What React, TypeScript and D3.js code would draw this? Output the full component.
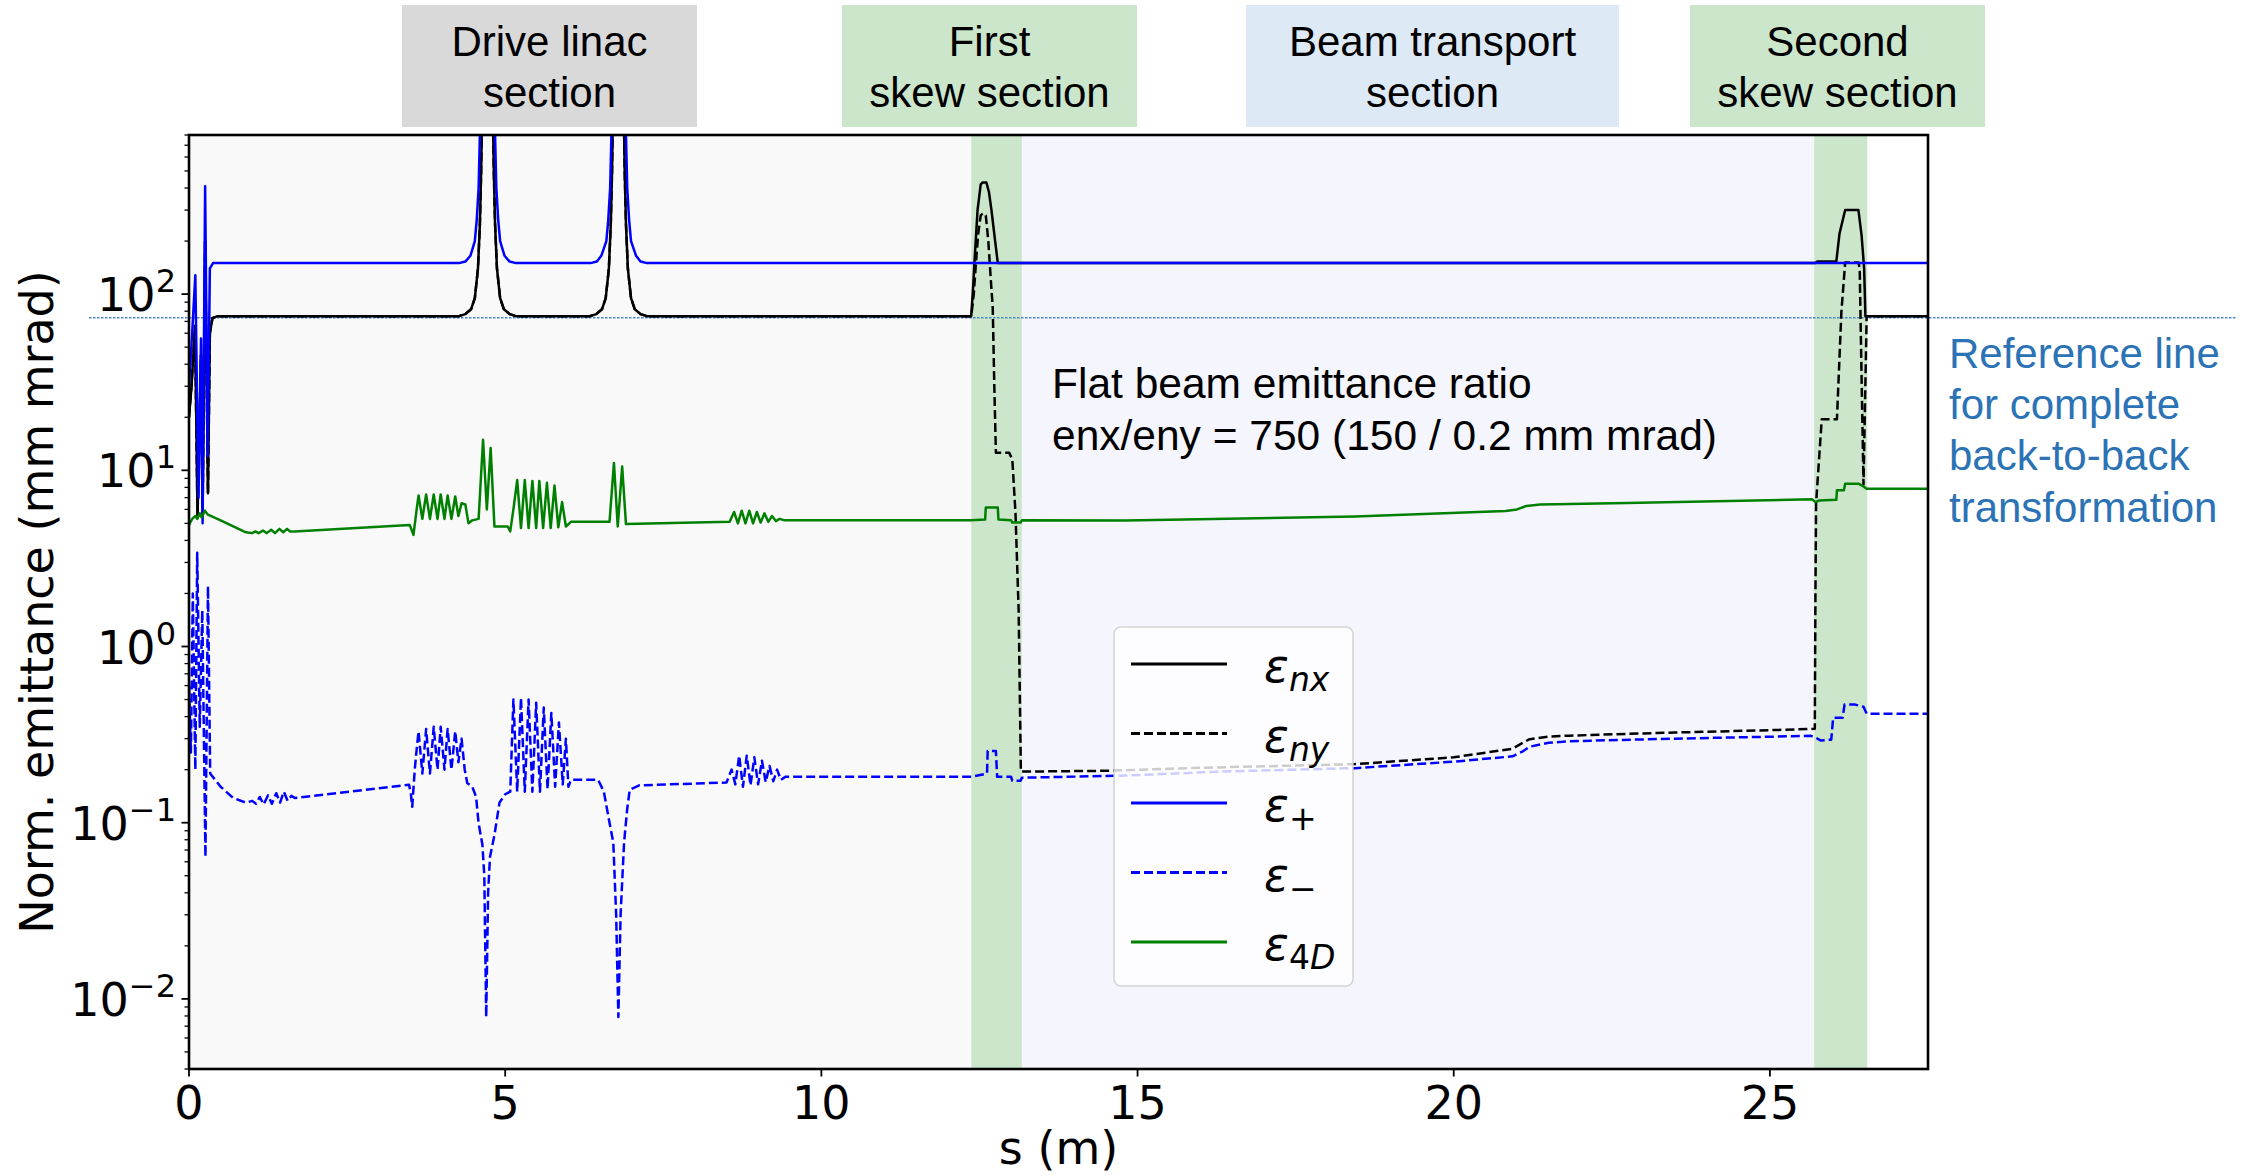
import React from 'react';
import * as d3 from 'd3';

const W = 2253;
const H = 1176;
const M = { left: 189, right: 1928, top: 135, bottom: 1069 };

const xDomain = [0, 27.5];
const yDomain = [0.004, 800];
const xTicks = [0, 5, 10, 15, 20, 25];
const yMajor = [0.01, 0.1, 1, 10, 100];
const yExp = ['\u22122', '\u22121', '0', '1', '2'];

// shaded regions along s (m)
const linacShade = [0, 12.37];
const transportShade = [13.17, 25.7];
const skewBands = [
  [12.37, 13.17],
  [25.7, 26.54],
];
const refLevel = 73.5;

// header boxes above the axes (figure pixels)
const headers = [
  { x0: 402, x1: 697, fill: '#d9d9d9', lines: ['Drive linac', 'section'] },
  { x0: 842, x1: 1137, fill: '#cce6cc', lines: ['First', 'skew section'] },
  { x0: 1246, x1: 1619, fill: '#dde9f4', lines: ['Beam transport', 'section'] },
  { x0: 1690, x1: 1985, fill: '#cce6cc', lines: ['Second', 'skew section'] },
];

const refText = ['Reference line', 'for complete', 'back-to-back', 'transformation'];
const noteText = ['Flat beam emittance ratio', 'enx/eny = 750 (150 / 0.2 mm mrad)'];

// eps_nx up to the first skew section (eps_ny is the same there)
const enxLinac: number[][] = [
  [0, 20], [0.04, 30], [0.095, 66], [0.135, 5.5], [0.19, 45], [0.215, 5.5], [0.255, 200],
  [0.3, 7.4], [0.33, 60], [0.37, 73], [0.45, 75],
  [4.27, 75], [4.37, 77], [4.46, 82], [4.52, 95], [4.57, 140], [4.6, 250], [4.62, 500],
  [4.64, 1500], [4.8, 1500], [4.82, 500], [4.84, 250], [4.87, 140], [4.92, 95], [4.98, 82],
  [5.07, 77], [5.17, 75],
  [6.34, 75], [6.44, 77], [6.53, 82], [6.59, 95], [6.64, 140], [6.67, 250], [6.69, 500],
  [6.71, 1500], [6.87, 1500], [6.89, 500], [6.91, 250], [6.94, 140], [6.99, 95], [7.05, 82],
  [7.14, 77], [7.24, 75],
  [12.37, 75],
];

const enxSkew: number[][] = [
  [12.4, 110], [12.42, 150], [12.47, 300], [12.52, 420], [12.55, 430], [12.61, 430],
  [12.65, 380], [12.69, 300], [12.73, 226], [12.79, 150],
  [25.72, 150], [25.75, 153], [26.05, 153], [26.1, 220], [26.19, 300], [26.4, 300],
  [26.45, 215], [26.49, 140], [26.51, 75], [27.5, 75],
];

const enyAfter: number[][] = [
  [12.41, 100], [12.44, 142], [12.48, 220], [12.52, 280], [12.56, 288], [12.6, 280],
  [12.64, 200], [12.68, 120], [12.71, 84], [12.735, 30], [12.76, 12.6], [12.97, 12.6],
  [13.02, 11.5], [13.07, 5.7], [13.12, 1.59], [13.155, 0.195],
  [14.5, 0.197], [16, 0.205], [18.44, 0.215], [20, 0.235], [20.93, 0.263], [21.1, 0.285],
  [21.2, 0.298], [21.5, 0.308], [21.83, 0.312], [23.5, 0.325], [25, 0.335], [25.71, 0.341],
  [25.72, 2], [25.73, 6.5], [25.82, 19.5], [26.06, 19.5], [26.13, 79], [26.19, 151],
  [26.4, 151], [26.42, 140], [26.44, 53], [26.48, 8.3], [26.53, 75], [27.5, 75],
];

const epsPlus: number[][] = [
  [0, 30], [0.05, 60], [0.1, 128], [0.15, 7], [0.19, 56], [0.215, 5], [0.255, 410],
  [0.295, 12], [0.33, 140], [0.38, 150],
  [4.27, 150], [4.37, 153], [4.45, 165], [4.52, 200], [4.55, 263], [4.58, 400], [4.6, 800],
  [4.62, 2000], [4.82, 2000], [4.84, 800], [4.86, 400], [4.89, 263], [4.92, 200],
  [4.99, 165], [5.07, 153], [5.17, 150],
  [6.35, 150], [6.45, 153], [6.52, 165], [6.6, 200], [6.63, 263], [6.66, 400], [6.68, 800],
  [6.7, 2000], [6.89, 2000], [6.91, 800], [6.93, 400], [6.96, 263], [6.99, 200],
  [7.07, 165], [7.14, 153], [7.24, 150],
  [27.5, 150],
];

const epsMinus: number[][] = [
  [0, 0.6], [0.03, 0.25], [0.06, 2.0], [0.1, 0.2], [0.13, 3.4], [0.17, 0.35], [0.21, 1.6],
  [0.26, 0.064], [0.3, 2.2], [0.335, 0.19], [0.5, 0.16], [0.7, 0.138], [0.9, 0.13],
  [1.0, 0.133], [1.06, 0.128], [1.12, 0.14], [1.18, 0.127], [1.25, 0.143], [1.31, 0.128],
  [1.38, 0.147], [1.44, 0.13], [1.5, 0.15], [1.56, 0.133], [1.62, 0.142], [1.68, 0.138],
  [3.48, 0.164], [3.51, 0.145], [3.53, 0.123], [3.57, 0.2], [3.6, 0.26],
  [3.63, 0.33], [3.69, 0.19], [3.75, 0.34], [3.81, 0.19], [3.87, 0.35], [3.93, 0.2],
  [3.98, 0.35], [4.04, 0.2], [4.09, 0.34], [4.15, 0.2], [4.21, 0.33], [4.26, 0.22],
  [4.31, 0.3], [4.36, 0.2], [4.4, 0.168],
  [4.48, 0.16], [4.54, 0.14], [4.58, 0.099], [4.64, 0.075], [4.67, 0.05], [4.7, 0.0079],
  [4.73, 0.04], [4.76, 0.064], [4.83, 0.085], [4.91, 0.13], [5.0, 0.145], [5.08, 0.15],
  [5.13, 0.5], [5.19, 0.15], [5.25, 0.51], [5.31, 0.15], [5.37, 0.5], [5.43, 0.15],
  [5.49, 0.48], [5.55, 0.15], [5.61, 0.45], [5.67, 0.155], [5.73, 0.42], [5.79, 0.16],
  [5.85, 0.37], [5.91, 0.165], [5.96, 0.3], [6.0, 0.16], [6.04, 0.175],
  [6.47, 0.175], [6.56, 0.15], [6.65, 0.1], [6.71, 0.077], [6.755, 0.03], [6.79, 0.0079],
  [6.825, 0.03], [6.88, 0.077], [6.93, 0.12], [6.97, 0.154], [7.12, 0.163], [8.5, 0.169],
  [8.58, 0.2], [8.64, 0.165], [8.7, 0.24], [8.76, 0.16], [8.82, 0.24], [8.88, 0.163],
  [8.94, 0.235], [9.0, 0.165], [9.06, 0.225], [9.12, 0.17], [9.18, 0.21], [9.24, 0.172],
  [9.3, 0.2], [9.36, 0.175], [9.43, 0.182],
  [12.37, 0.182], [12.62, 0.19], [12.63, 0.255], [12.76, 0.255], [12.78, 0.182],
  [13.0, 0.182], [13.02, 0.173], [13.15, 0.173], [13.17, 0.18],
  [14.8, 0.185], [16.3, 0.195], [18.44, 0.204], [20, 0.222], [20.93, 0.238], [21.1, 0.255],
  [21.2, 0.27], [21.5, 0.284], [21.83, 0.29], [23.5, 0.3], [25.65, 0.311], [25.72, 0.305],
  [25.8, 0.293], [25.97, 0.296], [26.0, 0.394], [26.15, 0.394], [26.18, 0.468],
  [26.35, 0.468], [26.48, 0.455], [26.53, 0.416], [27.5, 0.415],
];

const eps4D: number[][] = [
  [0, 4.9], [0.05, 5.3], [0.1, 5.5], [0.13, 5.3], [0.17, 5.7], [0.2, 5.4], [0.25, 5.9],
  [0.3, 5.6], [0.5, 5.2], [0.7, 4.8], [0.9, 4.45], [1.0, 4.4],
  [1.05, 4.5], [1.1, 4.4], [1.17, 4.55], [1.23, 4.4], [1.3, 4.6], [1.36, 4.4], [1.43, 4.65],
  [1.49, 4.45], [1.55, 4.65], [1.6, 4.5], [1.67, 4.5],
  [3.49, 4.9], [3.55, 4.3], [3.6, 6.0],
  [3.63, 7.2], [3.69, 5.3], [3.75, 7.3], [3.81, 5.3], [3.87, 7.3], [3.93, 5.3], [3.98, 7.3],
  [4.04, 5.3], [4.09, 7.2], [4.15, 5.3], [4.21, 7.1], [4.26, 5.5], [4.31, 6.5], [4.37, 6.4],
  [4.42, 5.0], [4.48, 5.2], [4.58, 5.3],
  [4.65, 14.9], [4.71, 6.0], [4.77, 13.4], [4.83, 4.8], [5.04, 4.8], [5.08, 4.5],
  [5.13, 6], [5.19, 8.8], [5.25, 4.7], [5.31, 8.8], [5.37, 4.7], [5.43, 8.7], [5.49, 4.7],
  [5.54, 8.7], [5.6, 4.7], [5.66, 8.5], [5.72, 4.7], [5.78, 8.2], [5.84, 4.75], [5.9, 6.6],
  [5.96, 4.8], [6.04, 5.1],
  [6.65, 5.1], [6.72, 11], [6.78, 4.8], [6.85, 10.5], [6.91, 4.95], [8.55, 5.1],
  [8.62, 5.8], [8.68, 5.0], [8.74, 5.9], [8.8, 5.0], [8.86, 5.9], [8.92, 5.0], [8.98, 5.8],
  [9.04, 5.05], [9.1, 5.7], [9.16, 5.1], [9.22, 5.5], [9.28, 5.15], [9.34, 5.3], [9.42, 5.2],
  [12.37, 5.2], [12.59, 5.25], [12.6, 6.15], [12.79, 6.15], [12.8, 5.25], [13.0, 5.2],
  [13.02, 5.05], [13.15, 5.05], [13.17, 5.2],
  [14.8, 5.19], [18.44, 5.46], [20.82, 5.87], [21.0, 6.0], [21.15, 6.28], [21.37, 6.4],
  [22.74, 6.52], [25.67, 6.84], [25.72, 6.6], [25.78, 6.75], [26.05, 6.8], [26.06, 7.7],
  [26.17, 7.7], [26.19, 8.4], [26.4, 8.4], [26.48, 8.1], [26.53, 7.85], [27.5, 7.85],
];

const enxData = [...enxLinac, ...enxSkew];
const enyData = [...enxLinac, ...enyAfter];

const DASH = '9,4';
const LW = 2.5;

const series = [
  { key: 'nx', data: enxData, color: '#000000', dash: undefined },
  { key: 'ny', data: enyData, color: '#000000', dash: DASH },
  { key: 'plus', data: epsPlus, color: '#0000ff', dash: undefined },
  { key: 'minus', data: epsMinus, color: '#0000ff', dash: DASH },
  { key: '4d', data: eps4D, color: '#008000', dash: undefined },
];

const sans = 'DejaVu Sans, sans-serif';
const arial = 'Liberation Sans, Arial, sans-serif';

function LegendLabel({ k, x, y }: { k: string; x: number; y: number }) {
  const sub = { fontSize: 33 };
  let content: React.ReactNode = null;
  if (k === 'nx' || k === 'ny')
    content = <tspan dy={9} style={{ ...sub, fontStyle: 'italic' }}>{k}</tspan>;
  else if (k === 'plus') content = <tspan dy={9} style={sub}>+</tspan>;
  else if (k === 'minus') content = <tspan dy={9} style={sub}>{'\u2212'}</tspan>;
  else
    content = (
      <>
        <tspan dy={9} style={sub}>4</tspan>
        <tspan style={{ ...sub, fontStyle: 'italic' }}>D</tspan>
      </>
    );
  return (
    <text x={x} y={y} fontFamily={sans} fontSize={46} fill="#000">
      <tspan fontStyle="italic">ε</tspan>
      {content}
    </text>
  );
}

export default function App() {
  const x = d3.scaleLinear().domain(xDomain).range([M.left, M.right]);
  const y = d3.scaleLog().domain(yDomain).range([M.bottom, M.top]);
  const line = d3
    .line<number[]>()
    .x((d) => x(d[0]))
    .y((d) => y(d[1]));

  const minor = y
    .ticks()
    .filter((v) => Math.abs(Math.log10(v) - Math.round(Math.log10(v))) > 1e-6);

  const refY = y(refLevel);
  const legendRowY = [664, 733.5, 803, 872.5, 942];

  return (
    <svg
      width={W}
      height={H}
      style={{ position: 'absolute', left: 0, top: 0, background: '#fff' }}
    >
      <defs>
        <clipPath id="plotClip">
          <rect x={M.left} y={M.top} width={M.right - M.left} height={M.bottom - M.top} />
        </clipPath>
      </defs>

      {/* headers */}
      {headers.map((h) => (
        <g key={h.lines.join()}>
          <rect x={h.x0} y={5} width={h.x1 - h.x0} height={122} fill={h.fill} />
          {h.lines.map((t, i) => (
            <text
              key={t}
              x={(h.x0 + h.x1) / 2}
              y={55.5 + i * 51}
              textAnchor="middle"
              fontFamily={arial}
              fontSize={42}
              fill="#000"
            >
              {t}
            </text>
          ))}
        </g>
      ))}

      {/* backgrounds */}
      <g clipPath="url(#plotClip)">
        <rect
          x={x(linacShade[0])}
          y={M.top}
          width={x(linacShade[1]) - x(linacShade[0])}
          height={M.bottom - M.top}
          fill="#f9f9f9"
        />
        <rect
          x={x(transportShade[0])}
          y={M.top}
          width={x(transportShade[1]) - x(transportShade[0])}
          height={M.bottom - M.top}
          fill="#f5f6fd"
        />
        {skewBands.map((b) => (
          <rect
            key={b[0]}
            x={x(b[0])}
            y={M.top}
            width={x(b[1]) - x(b[0])}
            height={M.bottom - M.top}
            fill="#cce6cc"
          />
        ))}
      </g>

      {/* reference line */}
      <line
        x1={89}
        x2={2236}
        y1={refY}
        y2={refY}
        stroke="#4a86c5"
        strokeWidth={1.6}
        strokeDasharray="2.5,1.5"
      />

      {/* curves */}
      <g clipPath="url(#plotClip)">
        {series.map((s) => (
          <path
            key={s.key}
            d={line(s.data) || ''}
            fill="none"
            stroke={s.color}
            strokeWidth={LW}
            strokeDasharray={s.dash}
            strokeLinejoin="round"
          />
        ))}
      </g>

      {/* annotation */}
      {noteText.map((t, i) => (
        <text key={t} x={1052} y={398 + i * 51.5} fontFamily={arial} fontSize={42.5} fill="#000">
          {t}
        </text>
      ))}

      {/* legend */}
      <rect
        x={1114}
        y={627}
        width={239}
        height={359}
        rx={7}
        fill="#ffffff"
        fillOpacity={0.8}
        stroke="#cccccc"
        strokeOpacity={0.8}
        strokeWidth={1.6}
      />
      {series.map((s, i) => (
        <g key={s.key}>
          <line
            x1={1131}
            x2={1227}
            y1={legendRowY[i]}
            y2={legendRowY[i]}
            stroke={s.color}
            strokeWidth={LW + 0.3}
            strokeDasharray={s.dash}
          />
          <LegendLabel k={s.key} x={1264} y={legendRowY[i] + 18} />
        </g>
      ))}

      {/* frame */}
      <rect
        x={M.left}
        y={M.top}
        width={M.right - M.left}
        height={M.bottom - M.top}
        fill="none"
        stroke="#000"
        strokeWidth={2.6}
      />

      {/* y ticks */}
      {minor.map((v) => (
        <line key={v} x1={M.left - 4.5} x2={M.left} y1={y(v)} y2={y(v)} stroke="#000" strokeWidth={1.3} />
      ))}
      {yMajor.map((v, i) => (
        <g key={v}>
          <line x1={M.left - 7.5} x2={M.left} y1={y(v)} y2={y(v)} stroke="#000" strokeWidth={1.8} />
          <text x={176} y={y(v) + 17} textAnchor="end" fontFamily={sans} fontSize={46} fill="#000">
            10
            <tspan dy={-19} fontSize={32}>
              {yExp[i]}
            </tspan>
          </text>
        </g>
      ))}

      {/* x ticks */}
      {xTicks.map((v) => (
        <g key={v}>
          <line x1={x(v)} x2={x(v)} y1={M.bottom} y2={M.bottom + 7.5} stroke="#000" strokeWidth={1.8} />
          <text x={x(v)} y={1119} textAnchor="middle" fontFamily={sans} fontSize={46} fill="#000">
            {v}
          </text>
        </g>
      ))}

      {/* axis labels */}
      <text x={(M.left + M.right) / 2} y={1164} textAnchor="middle" fontFamily={sans} fontSize={46}>
        s (m)
      </text>
      <text
        transform={`translate(53, ${(M.top + M.bottom) / 2}) rotate(-90)`}
        textAnchor="middle"
        fontFamily={sans}
        fontSize={46}
      >
        Norm. emittance (mm mrad)
      </text>

      {/* reference line note */}
      {refText.map((t, i) => (
        <text key={t} x={1949} y={368 + i * 51.2} fontFamily={arial} fontSize={42} fill="#2b73b5">
          {t}
        </text>
      ))}
    </svg>
  );
}
